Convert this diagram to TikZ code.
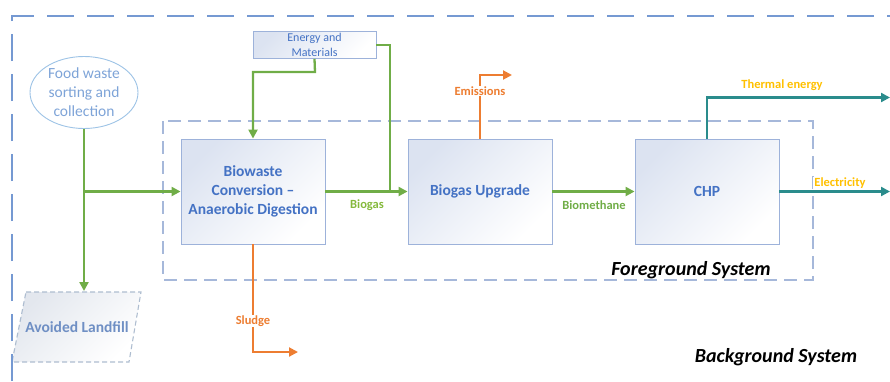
\documentclass[tikz,border=0pt]{standalone}
\usepackage{fontspec}
\setmainfont{Carlito}
\usetikzlibrary{shapes.geometric,arrows.meta}
\definecolor{gr}{HTML}{70AD47}
\definecolor{orng}{HTML}{ED7D31}
\definecolor{teal2}{HTML}{2A8C8C}
\definecolor{yel}{HTML}{FFC000}
\definecolor{boxtxt}{HTML}{4472C4}
\definecolor{boxline}{HTML}{9DB2DA}
\definecolor{boxfill}{HTML}{DCE3F1}
\definecolor{lffill}{HTML}{E3E7EE}
\definecolor{outer}{HTML}{7599D2}
\definecolor{inner}{HTML}{A6B8DA}
\definecolor{ell}{HTML}{9DC3E6}
\definecolor{elltxt}{HTML}{7EA4D8}
\definecolor{lfline}{HTML}{AEBDD0}
\definecolor{lftxt}{HTML}{6F8FC4}
\tikzset{
  procbox/.style={draw=boxline, line width=0.9pt, top color=boxfill, bottom color=white, shading angle=45,
    minimum width=144pt, minimum height=105pt, align=center, text=boxtxt,
    font=\fontsize{15.5}{19}\selectfont\bfseries},
  smallbox/.style={draw=boxline, line width=0.9pt, top color=boxfill, bottom color=white, shading angle=45,
    minimum width=123pt, minimum height=27pt, inner sep=0pt, align=center, text=boxtxt,
    font=\fontsize{12}{15}\selectfont},
  garrow/.style={draw=gr, line width=2.3pt, -{Triangle[length=9pt,width=9pt]}},
  gline/.style={draw=gr, line width=2.3pt},
  oarrow/.style={draw=orng, line width=2pt, -{Triangle[length=9pt,width=9pt]}},
  tarrow/.style={draw=teal2, line width=2.3pt, -{Triangle[length=9pt,width=9pt]}},
  lbl/.style={font=\fontsize{12.5}{15}\selectfont\bfseries, inner sep=1pt},
  syslbl/.style={font=\fontsize{20}{24}\selectfont\bfseries\itshape, text=black},
}
\begin{document}
\begin{tikzpicture}[x=1pt,y=-1pt]
\useasboundingbox (0,0) rectangle (890,381);
% foreground system boundary
\draw[inner, line width=1.1pt, dash pattern=on 13pt off 7pt] (163,121) rectangle (813,280);

% nodes
\node[ellipse, draw=ell, line width=0.9pt, fill=white, minimum width=108pt, minimum height=72pt,
  inner sep=0pt, align=center, text=elltxt, font=\fontsize{15.5}{19}\selectfont] (food) at (84,92.5)
  {Food waste\\sorting and\\collection};
\node[smallbox] (em) at (314.5,45) {Energy and\\Materials};
\node[procbox] (bio) at (253,191.5) {Biowaste\\Conversion --\\Anaerobic Digestion};
\node[procbox] (up) at (480,191.5) {Biogas Upgrade};
\node[procbox] (chp) at (707,191.5) {CHP};

% avoided landfill parallelogram
\coordinate (lf1) at (26,292);
\coordinate (lf2) at (141,292);
\coordinate (lf3) at (129,362);
\coordinate (lf4) at (12,362);
\path[top color=lffill, bottom color=white, shading angle=45] (lf1) -- (lf2) -- (lf3) -- (lf4) -- cycle;
\draw[lfline, line width=1.1pt, dash pattern=on 5pt off 3pt] (lf1) -- (lf2) -- (lf3) -- (lf4) -- cycle;
\coordinate (lftop) at (84,291);
\node[text=lftxt, font=\fontsize{15.5}{19}\selectfont\bfseries] (lf) at (77,327) {Avoided Landfill};

% outer background system boundary
\draw[outer, line width=2pt, dash pattern=on 27pt off 13pt] (12,381) -- (12,16) -- (890,16);

% connectors
\coordinate (split) at (food.south |- bio.west);
\draw[garrow] (food.south) -- (lftop);
\draw[garrow] (split) -- (bio.west);
\coordinate (emdrop) at (315,72);
\draw[garrow] (em.south) -- (emdrop) -| (bio.north);
\coordinate (emturn) at (390,45);
\coordinate (emjoin) at (390,191.5);
\draw[gline] (em.east) -- (emturn) -- (emjoin);
\draw[garrow] (bio.east) -- (up.west);
\node[lbl, text=gr!85!yellow] (lbiogas) at (367,205) {Biogas};

\coordinate (emi1) at (480,75);
\coordinate (emi2) at (512,75);
\draw[oarrow] (up.north) -- (emi1) -- (emi2);
\node[lbl, text=orng, fill=white] (lemi) at (480,91) {Emissions};

\draw[garrow] (up.east) -- (chp.west);
\node[lbl, text=gr] (lbiometh) at (594,205) {Biomethane};

\coordinate (th) at (890,97.5);
\draw[tarrow] (chp.north) |- (th);
\node[lbl, text=yel] (lth) at (782,85.5) {Thermal energy};

\coordinate (el) at (890,191.5);
\draw[tarrow] (chp.east) -- (el);
\node[lbl, text=yel, fill=white] (lel) at (840,183.5) {Electricity};

\coordinate (sl1) at (253,352);
\coordinate (sl2) at (298,352);
\draw[oarrow] (bio.south) -- (sl1) -- (sl2);
\node[lbl, text=orng, fill=white] (lsl) at (253,321) {Sludge};

\node[syslbl] (fg) at (691,270) {Foreground System};
\node[syslbl] (bg) at (776,357.5) {Background System};
\end{tikzpicture}
\end{document}
